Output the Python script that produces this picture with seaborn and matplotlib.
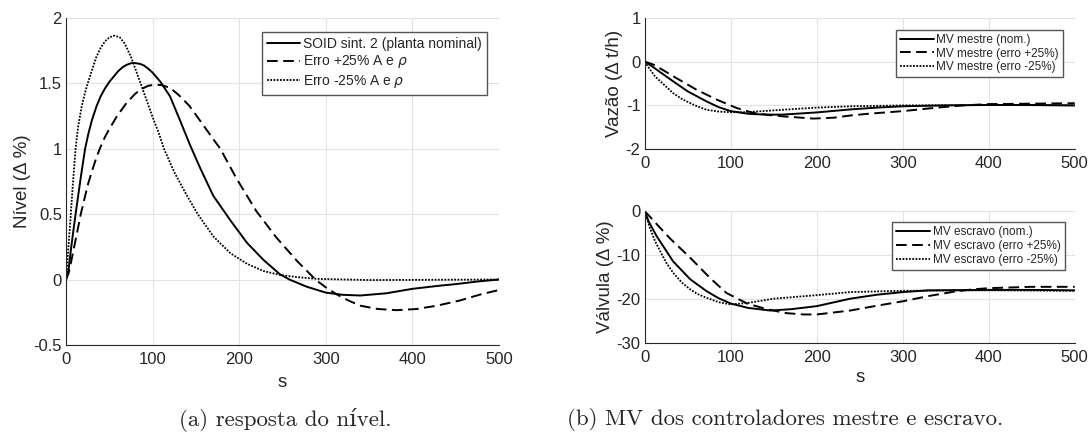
import matplotlib
matplotlib.use("Agg")
import matplotlib.pyplot as plt
import seaborn as sns

# ---- data ----
# (a) level response
nom_x = [0, 3, 6, 9, 11, 14, 17, 22, 26, 30, 35, 40, 45, 50, 55, 60, 65, 70, 75, 79, 85, 90, 95,
         100, 109, 120, 132, 143, 155, 170, 190, 209, 228, 247, 258, 278, 300, 320, 340, 370, 400,
         430, 450, 478, 500]
nom_y = [0, 0.08, 0.25, 0.4, 0.5, 0.64, 0.78, 1.0, 1.12, 1.22, 1.32, 1.4, 1.46, 1.51, 1.55, 1.59,
         1.62, 1.64, 1.652, 1.654, 1.648, 1.635, 1.61, 1.58, 1.51, 1.40, 1.21, 1.03, 0.85, 0.64,
         0.45, 0.28, 0.15, 0.04, 0.0, -0.055, -0.10, -0.117, -0.122, -0.105, -0.071, -0.048,
         -0.035, -0.013, 0.0]
plus_x = [0, 3, 6, 10, 14, 17, 21, 25, 30, 35, 39, 45, 50, 59, 70, 80, 87, 95, 103, 110, 120, 130,
          142, 153, 167, 178, 197, 220, 243, 267, 288, 300, 313, 326, 340, 360, 382, 405, 428, 455,
          478, 500]
plus_y = [0, 0.05, 0.14, 0.27, 0.4, 0.5, 0.61, 0.72, 0.83, 0.93, 1.0, 1.09, 1.15, 1.25, 1.35, 1.42,
          1.455, 1.48, 1.489, 1.485, 1.465, 1.41, 1.33, 1.23, 1.1, 1.0, 0.77, 0.52, 0.32, 0.14, 0.0,
          -0.06, -0.115, -0.16, -0.2, -0.225, -0.234, -0.225, -0.2, -0.16, -0.115, -0.08]
minus_x = [0, 2, 5, 8, 11, 14, 18, 22, 26, 30, 35, 40, 45, 50, 56, 62, 68, 75, 80, 86, 93, 100, 107,
           113, 125, 138, 152, 170, 190, 209, 228, 247, 267, 290, 350, 420, 500]
minus_y = [0, 0.18, 0.45, 0.74, 1.0, 1.17, 1.32, 1.43, 1.52, 1.6, 1.7, 1.77, 1.82, 1.85, 1.863,
           1.85, 1.8, 1.7, 1.61, 1.5, 1.37, 1.24, 1.12, 1.0, 0.82, 0.66, 0.5, 0.33, 0.2, 0.12,
           0.065, 0.035, 0.018, 0.005, -0.004, -0.002, 0.0]

# (b) master MV (flow)
mest_nom_x = [0, 10, 20, 33, 50, 72, 86, 100, 120, 140, 160, 200, 240, 270, 300, 350, 400, 450, 500]
mest_nom_y = [0, -0.13, -0.27, -0.45, -0.68, -0.91, -1.04, -1.13, -1.19, -1.21, -1.21, -1.16,
              -1.09, -1.05, -1.02, -1.0, -0.99, -0.99, -1.0]
mest_plus_x = [0, 10, 20, 37, 60, 84, 107, 126, 145, 161, 196, 220, 239, 260, 300, 340, 370, 400,
               450, 500]
mest_plus_y = [0, -0.07, -0.18, -0.38, -0.64, -0.87, -1.06, -1.17, -1.22, -1.25, -1.30, -1.28,
               -1.23, -1.19, -1.13, -1.05, -1.0, -0.97, -0.96, -0.95]
mest_minus_x = [0, 5, 12, 22, 33, 43, 53, 62, 72, 86, 100, 115, 130, 160, 200, 240, 300, 400, 500]
mest_minus_y = [0, -0.15, -0.34, -0.52, -0.72, -0.85, -0.95, -1.03, -1.10, -1.14, -1.155, -1.155,
                -1.14, -1.10, -1.05, -1.02, -1.0, -0.99, -1.0]

# (b) slave MV (valve)
esc_nom_x = [0, 5, 14, 33, 53, 72, 86, 100, 120, 146, 170, 200, 239, 270, 300, 330, 400, 450, 500]
esc_nom_y = [0, -2.5, -5.7, -11.4, -15.5, -18.2, -19.8, -21.0, -22.0, -22.6, -22.3, -21.6, -19.9,
             -19.0, -18.4, -18.0, -17.9, -17.9, -18.0]
esc_plus_x = [0, 5, 11, 29, 53, 76, 95, 119, 142, 165, 185, 200, 239, 270, 300, 330, 360, 380,
              400, 450, 500]
esc_plus_y = [0, -1.0, -2.3, -6.1, -10.6, -15.2, -18.6, -21.0, -22.3, -23.2, -23.5, -23.5, -22.6,
              -21.5, -20.5, -19.3, -18.3, -17.8, -17.5, -17.2, -17.2]
esc_minus_x = [0, 6, 12, 18, 25, 33, 43, 53, 62, 72, 86, 100, 119, 150, 200, 239, 300, 400, 500]
esc_minus_y = [0, -3.8, -6.8, -9.1, -11.7, -14.0, -16.2, -17.8, -18.9, -19.7, -20.7, -21.2, -20.9,
               -19.9, -19.1, -18.4, -18.1, -18.0, -18.1]

x_ticks = [0, 100, 200, 300, 400, 500]
lvl_ticks = [-0.5, 0, 0.5, 1, 1.5, 2]
lvl_labels = ["-0.5", "0", "0.5", "1", "1.5", "2"]
flow_ticks = [-2, -1, 0, 1]
flow_labels = ["-2", "-1", "0", "1"]
valve_ticks = [-30, -20, -10, 0]
valve_labels = ["-30", "-20", "-10", "0"]

labels_a = ["SOID sint. 2 (planta nominal)", r"Erro +25% A e $\rho$", r"Erro -25% A e $\rho$"]
labels_mest = ["MV mestre (nom.)", "MV mestre (erro +25%)", "MV mestre (erro -25%)"]
labels_esc = ["MV escravo (nom.)", "MV escravo (erro +25%)", "MV escravo (erro -25%)"]

# ---- style ----
sns.set_style("whitegrid", {"grid.color": "#e3e3e3", "axes.edgecolor": "#262626"})
plt.rcParams["font.family"] = ["Liberation Sans", "DejaVu Sans"]
plt.rcParams["axes.unicode_minus"] = False

styles = [dict(linestyle="-", linewidth=1.4),
          dict(linestyle=(0, (5.5, 2.8)), linewidth=1.4),
          dict(linestyle=(0, (1, 0.8)), linewidth=1.3)]

TICK_FS = 12
LAB_FS = 13.5

fig = plt.figure(figsize=(10.9, 4.41), dpi=100)
ax_a = fig.add_axes([0.0606, 0.2177, 0.3972, 0.7422])
ax_t = fig.add_axes([0.5915, 0.6615, 0.3945, 0.2984])
ax_b = fig.add_axes([0.5915, 0.2222, 0.3945, 0.2986])


def draw(ax, series, labels):
    for (xs, ys), lab, st in zip(series, labels, styles):
        sns.lineplot(x=xs, y=ys, ax=ax, color="black", label=lab, estimator=None, **st)


def finish(ax, yticks, ylabels, ylim, ylabel):
    ax.set_xlim(0, 500)
    ax.set_ylim(*ylim)
    ax.set_xticks(x_ticks, [str(t) for t in x_ticks])
    ax.set_yticks(yticks, ylabels)
    ax.tick_params(direction="in", length=3, width=0.8, colors="#262626",
                   labelsize=TICK_FS)
    ax.tick_params(axis="x", pad=5)
    ax.tick_params(axis="y", pad=3)
    ax.set_ylabel(ylabel, fontsize=LAB_FS, color="#262626", labelpad=2)
    for s in ["top", "right"]:
        ax.spines[s].set_visible(False)
    for s in ["left", "bottom"]:
        ax.spines[s].set_linewidth(0.8)
    ax.grid(True, linewidth=0.8)


def legend(ax, anchor, fs, hl, spacing):
    ax.legend(loc="upper right", bbox_to_anchor=anchor, borderaxespad=0,
              fontsize=fs, handlelength=hl, handletextpad=0.2, labelspacing=spacing,
              frameon=True, fancybox=False, framealpha=1, edgecolor="#555555",
              borderpad=0.35)


draw(ax_a, [(nom_x, nom_y), (plus_x, plus_y), (minus_x, minus_y)], labels_a)
finish(ax_a, lvl_ticks, lvl_labels, (-0.5, 2), "Nível (Δ %)")
ax_a.set_xlabel("s", fontsize=LAB_FS, color="#262626", labelpad=5)
legend(ax_a, (0.972, 0.957), 10, 2.4, 0.2)

draw(ax_t, [(mest_nom_x, mest_nom_y), (mest_plus_x, mest_plus_y),
            (mest_minus_x, mest_minus_y)], labels_mest)
finish(ax_t, flow_ticks, flow_labels, (-2, 1), "Vazão (Δ t/h)")
ax_t.set_xlabel("")
legend(ax_t, (0.973, 0.909), 8.5, 2.9, 0.15)

draw(ax_b, [(esc_nom_x, esc_nom_y), (esc_plus_x, esc_plus_y),
            (esc_minus_x, esc_minus_y)], labels_esc)
finish(ax_b, valve_ticks, valve_labels, (-30, 0), "Válvula (Δ %)")
ax_b.set_xlabel("s", fontsize=LAB_FS, color="#262626", labelpad=3)
legend(ax_b, (0.977, 0.919), 8.5, 2.9, 0.15)

cap_font = ["cmr10", "DejaVu Serif"]
fig.text(0.262, 0.048, "(a) resposta do nível.", ha="center", va="center",
         fontsize=16.5, family=cap_font)
fig.text(0.52, 0.048, "(b) MV dos controladores mestre e escravo.", ha="left",
         va="center", fontsize=16.5, family=cap_font)

fig.savefig("out.png", dpi=100)
